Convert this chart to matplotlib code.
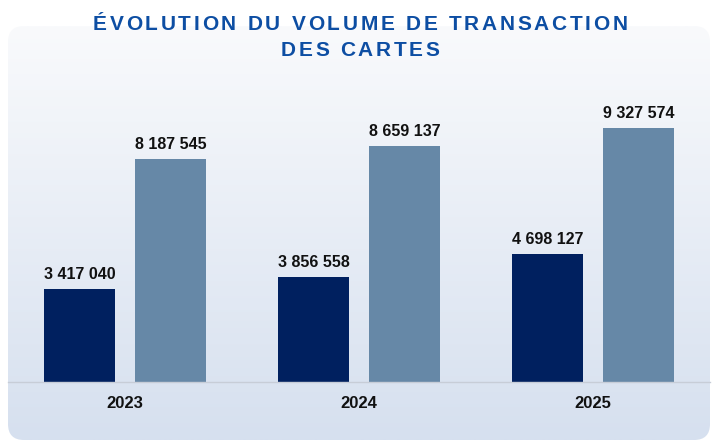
import numpy as np
import matplotlib
matplotlib.use("Agg")
import matplotlib.pyplot as plt
from matplotlib.patches import FancyBboxPatch
from matplotlib.colors import to_rgb
from matplotlib.font_manager import FontProperties, findfont, get_font

years = ["2023", "2024", "2025"]
series_a = [3417040, 3856558, 4698127]
series_b = [8187545, 8659137, 9327574]
title_lines = ["ÉVOLUTION DU VOLUME DE TRANSACTION", "DES CARTES"]

W, H, DPI = 712, 443, 100
fig = plt.figure(figsize=(W / DPI, H / DPI), dpi=DPI)

# background panel with gradient
bg = fig.add_axes([0, 0, 1, 1])
bg.set_xlim(0, W)
bg.set_ylim(H, 0)
bg.axis("off")
top_c = np.array(to_rgb("#f9fafc"))
bot_c = np.array(to_rgb("#d6e0ef"))
t = np.linspace(0, 1, 256)[:, None, None]
grad = top_c[None, None, :] * (1 - t) + bot_c[None, None, :] * t
panel = FancyBboxPatch((8, 26), 702, 414, boxstyle="round,pad=0,rounding_size=16",
                       transform=bg.transData, facecolor="none", edgecolor="none")
bg.add_patch(panel)
im = bg.imshow(grad, extent=[8, 710, 440, 26], aspect="auto", interpolation="bilinear")
im.set_clip_path(panel)

# title with letter spacing
fam = "Liberation Sans"
tsize = 15
fp = FontProperties(family=fam, weight="bold", size=tsize)
font = get_font(findfont(fp))
font.set_size(tsize, DPI)
track = 2.7
def adv(c):
    g = font.load_char(ord(c))
    return g.linearHoriAdvance / 65536.0

baselines = [30, 56]
for line, yb in zip(title_lines, baselines):
    widths = [adv(c) for c in line]
    total = sum(widths) + track * (len(line) - 1)
    x = 360 - total / 2
    for c, w in zip(line, widths):
        bg.text(x, yb, c, fontproperties=fp, color="#0d4ea3", ha="left", va="baseline")
        x += w + track

# main axes
ax = fig.add_axes([8 / W, 61 / H, 702 / W, 322 / H])
ax.patch.set_alpha(0)
x = np.arange(len(years))
bw = 0.3034
off = 0.1944
ba = ax.bar(x - off, series_a, bw, color="#00205f")
bb = ax.bar(x + off, series_b, bw, color="#6688a7")
ax.set_xlim(-0.5, 2.5)
ax.set_ylim(0, 11.83e6)
for s in ["top", "left", "right"]:
    ax.spines[s].set_visible(False)
ax.spines["bottom"].set_color("#c7cdd7")
ax.spines["bottom"].set_linewidth(1.0)
ax.set_yticks([])
ax.set_xticks(x)
ax.set_xticklabels(years, fontfamily=fam, fontweight="bold", fontsize=12, color="#111111")
ax.tick_params(axis="x", length=0, pad=10)

def fmt(v):
    return f"{v:,}".replace(",", " ")

for bars, vals in [(ba, series_a), (bb, series_b)]:
    for r, v in zip(bars, vals):
        ax.annotate(fmt(v), (r.get_x() + r.get_width() / 2, r.get_height()),
                    xytext=(0, 5), textcoords="offset points", ha="center", va="bottom",
                    fontfamily=fam, fontweight="bold", fontsize=11.5, color="#111111")

fig.savefig("out.png", dpi=DPI)
